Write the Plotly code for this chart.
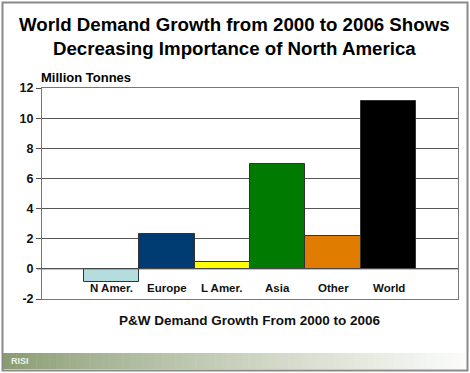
import plotly.graph_objects as go

regions = ["N Amer.", "Europe", "L Amer.", "Asia", "Other", "World"]
growth = [-0.85, 2.3, 0.48, 6.95, 2.2, 11.15]
bar_colors = ["#b5dde0", "#003b71", "#ffff00", "#007a00", "#e07c00", "#000000"]
y_ticks = [-2, 0, 2, 4, 6, 8, 10, 12]

FONT = "Arial, 'Liberation Sans', sans-serif"
L, R, T, B = 42, 458, 88, 299
PW, PH = R - L, B - T

def px(x):
    return (x - L) / PW

def py(y):
    return (B - y) / PH

fig = go.Figure()
fig.add_trace(go.Bar(
    x=regions, y=growth,
    marker=dict(color=bar_colors, line=dict(color="#333333", width=1)),
    width=1.0, showlegend=False, hoverinfo="x+y",
))

for r in regions:
    fig.add_annotation(x=r, y=-1.3, text="<b>%s</b>" % r, showarrow=False,
                       xref="x", yref="y", font=dict(family=FONT, size=11.5, color="#111"))

shapes = []
n = 70
c0 = (0x8a, 0x9c, 0x72)
c1 = (0xfb, 0xfc, 0xfa)
for i in range(n):
    t = i / (n - 1)
    col = tuple(int(c0[k] + (c1[k] - c0[k]) * (t ** 0.85)) for k in range(3))
    xa = 3 + i * (464 / n)
    xb = xa + 464 / n + 0.5
    shapes.append(dict(type="rect", xref="paper", yref="paper",
                       x0=px(xa), x1=px(xb), y0=py(369), y1=py(353),
                       line=dict(width=0), fillcolor="rgb(%d,%d,%d)" % col, layer="below"))
shapes.append(dict(type="rect", xref="paper", yref="paper",
                   x0=px(2.5), x1=px(467.5), y0=py(370.5), y1=py(2.5),
                   line=dict(color="#8a8a8a", width=2), fillcolor="rgba(0,0,0,0)"))
shapes.append(dict(type="line", xref="paper", yref="y", x0=px(37), x1=1, y0=0, y1=0,
                   line=dict(color="#555555", width=1)))
fig.update_layout(shapes=shapes)

fig.add_annotation(x=px(234), xref="paper", y=py(12), yref="paper",
                   text="<b>World Demand Growth from 2000 to 2006 Shows<br>Decreasing Importance of North America</b>",
                   showarrow=False, xanchor="center", yanchor="top",
                   font=dict(family=FONT, size=18.7, color="#000"), align="center")
fig.add_annotation(x=px(39), xref="paper", y=py(77), yref="paper",
                   text="<b>Million Tonnes</b>", showarrow=False, xanchor="left", yanchor="middle",
                   font=dict(family=FONT, size=13, color="#000"))
fig.add_annotation(x=px(250), xref="paper", y=py(320), yref="paper",
                   text="<b>P&amp;W Demand Growth From 2000 to 2006</b>", showarrow=False,
                   xanchor="center", yanchor="middle",
                   font=dict(family=FONT, size=13.5, color="#111"))
fig.add_annotation(x=px(9), xref="paper", y=py(361), yref="paper",
                   text="<b>RISI</b>", showarrow=False, xanchor="left", yanchor="middle",
                   font=dict(family=FONT, size=9, color="#eef2e8"))

fig.update_layout(
    width=470, height=373,
    margin=dict(l=L, r=470 - R, t=T, b=373 - B),
    paper_bgcolor="white", plot_bgcolor="white",
    bargap=0,
    xaxis=dict(range=[-1.25, 6.25], showticklabels=False, ticks="", showgrid=False,
               showline=True, linecolor="#777777", linewidth=1, mirror=True, zeroline=False),
    yaxis=dict(range=[-2, 12], tickvals=y_ticks, ticktext=["<b>%d</b>" % v for v in y_ticks],
               showgrid=True, gridcolor="#555555", gridwidth=1, zeroline=False,
               showline=True, linecolor="#777777", linewidth=1, mirror=True,
               ticks="outside", ticklen=5, tickcolor="#555555",
               tickfont=dict(family=FONT, size=12.5, color="#111")),
    font=dict(family=FONT),
)

fig.write_html("out.html", config={"displayModeBar": False},
               post_script="document.body.style.margin='0';document.body.style.overflow='hidden';")
